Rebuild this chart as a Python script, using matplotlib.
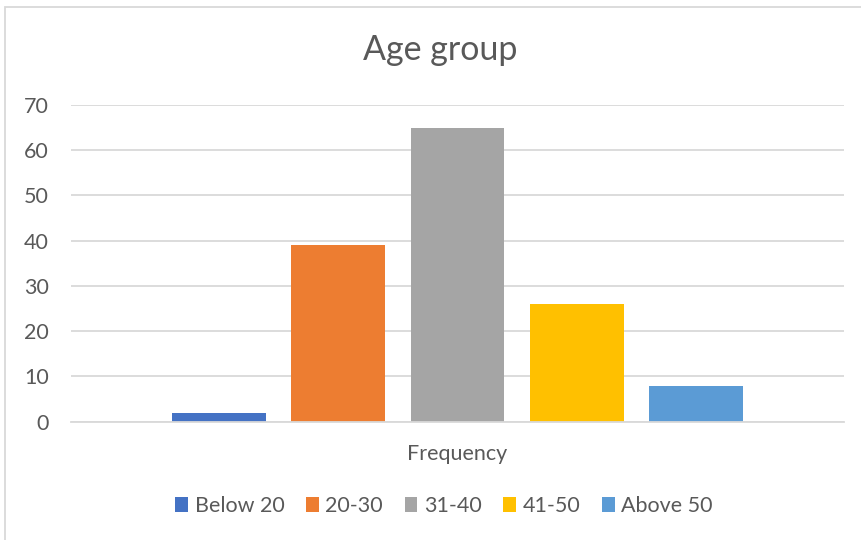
import matplotlib.pyplot as plt
from matplotlib.patches import Rectangle
import numpy as np

plt.rcParams['font.family'] = ['Lato', 'DejaVu Sans']

# donnees
groupes = ['Below 20', '20-30', '31-40', '41-50', 'Above 50']
frequences = [2, 39, 65, 26, 8]
couleurs = ['#4472C4', '#ED7D31', '#A5A5A5', '#FFC000', '#5B9BD5']
categorie = ['Frequency']

gris_texte = '#595959'
gris_grille = '#D9D9D9'

fig = plt.figure(figsize=(8.61, 5.4), dpi=100)
ax = fig.add_axes([71/861, 118.3/540, 773/861, 316.7/540])

largeur = 0.1216
pas = 0.1543
for i in range(len(groupes)):
    ax.bar((i - 2) * pas, frequences[i], width=largeur, color=couleurs[i],
           label=groupes[i], zorder=3)

ax.set_xlim(-0.5, 0.5)
ax.set_ylim(0, 70)
ax.set_yticks(np.arange(0, 71, 10))
ax.set_xticks([0])
ax.set_xticklabels(categorie)

ax.yaxis.grid(True, color=gris_grille, linewidth=1.3, zorder=0)
for s in ['top', 'right', 'left']:
    ax.spines[s].set_visible(False)
ax.spines['bottom'].set_color(gris_grille)
ax.spines['bottom'].set_linewidth(1.3)
ax.spines['bottom'].set_zorder(4)
ax.tick_params(axis='both', length=0, colors=gris_texte, labelsize=15.5)
ax.tick_params(axis='y', pad=16)
ax.tick_params(axis='x', pad=16)

fig.text(0.511, 1 - 50/540, 'Age group', ha='center', va='center',
         fontsize=24.5, color=gris_texte)

leg = fig.legend(loc='center', bbox_to_anchor=(444/861, 1 - 506/540), ncol=5,
                 frameon=False, fontsize=15.5, handlelength=0.6, handleheight=0.65,
                 handletextpad=0.3, columnspacing=1.0)
for t in leg.get_texts():
    t.set_color(gris_texte)

# cadre du graphique
fig.patches.append(Rectangle((4.5/861, -0.05), 1.1, 1.05 - 6.5/540,
                             transform=fig.transFigure, fill=False,
                             edgecolor=gris_grille, linewidth=1.3))

fig.savefig('out.png', dpi=100)
